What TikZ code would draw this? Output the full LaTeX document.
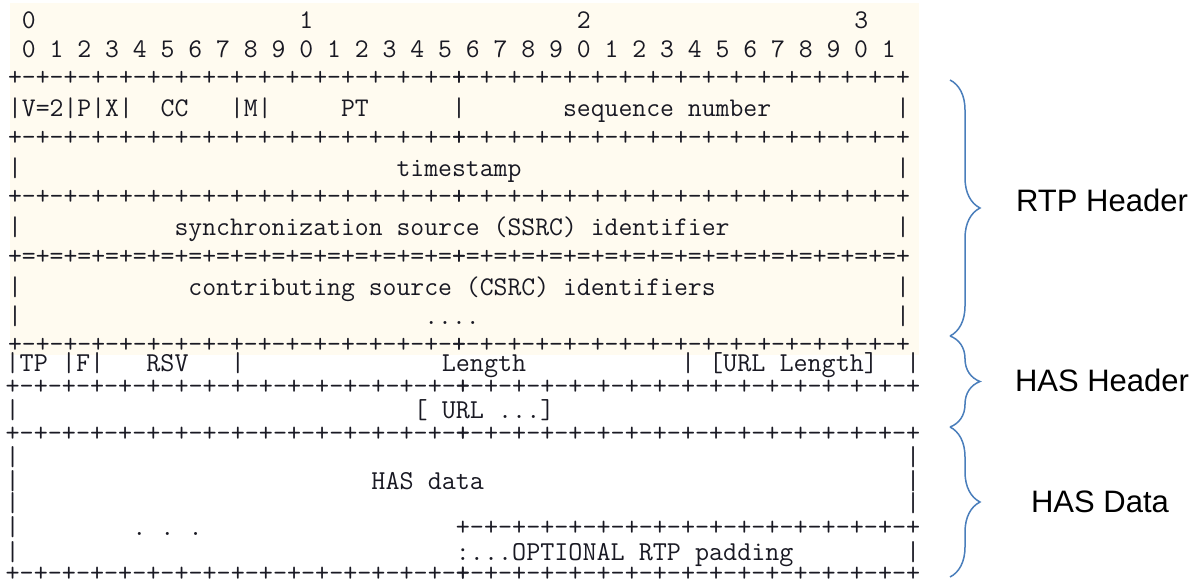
\documentclass[tikz,border=0pt]{standalone}
\usepackage{fontspec}
\setsansfont{Liberation Sans}
\usetikzlibrary{decorations.pathreplacing}
\definecolor{paper}{RGB}{255,251,240}
\definecolor{bracecol}{RGB}{74,126,187}
\definecolor{ink}{RGB}{25,25,35}
\newdimen\probew
\newcommand\gap[1]{\count255=#1\relax\loop\ifnum\count255>0 \ \advance\count255 by -1 \repeat}
\newcommand\halfrow{+-+-+-+-+-+-+-+-+-+-+-+-+-+-+-+-+}
\newcommand\plusrow{\halfrow\kern-\fontcharwd\font`\+\relax\halfrow}
\newcommand\eqhalf{+=+=+=+=+=+=+=+=+=+=+=+=+=+=+=+=+}
\newcommand\eqrow{\eqhalf\kern-\fontcharwd\font`\+\relax\eqhalf}
\newcommand\rtpfont{\ttfamily\fontsize{\rtpsize pt}{\rtpsize pt}\selectfont\frenchspacing\spaceskip\fontcharwd\font`\+\relax}
\newcommand\hasfont{\ttfamily\fontsize{\hassize pt}{\hassize pt}\selectfont\frenchspacing\spaceskip\fontcharwd\font`\+\relax}
\begin{document}
\setbox0\hbox{\ttfamily\fontsize{26.5pt}{26.5pt}\selectfont +}\probew=\wd0
\edef\rtpsize{\fpeval{26.5*13.875/\probew}}
\edef\hassize{\fpeval{26.5*14.07/\probew}}
\begin{tikzpicture}[x=1pt,y=-1pt,
  rtp/.style={anchor=base west,inner sep=0pt,outer sep=0pt,text=ink,font=\rtpfont},
  has/.style={anchor=base west,inner sep=0pt,outer sep=0pt,text=ink,font=\hasfont},
  curly/.style={decorate,decoration={brace,amplitude=30pt},draw=bracecol,line width=1.5pt},
  lbl/.style={inner sep=0pt,text=black,font=\sffamily\fontsize{31pt}{31pt}\selectfont}]
\useasboundingbox (0,0) rectangle (1198,580);
\fill[paper] (10,3) rectangle (919,355);
% RTP header (x of char 0 left edge = 8.06)
\node[rtp] (bitsA) at (21.9,29)   {0\gap{19}1\gap{19}2\gap{19}3};
\node[rtp] (bitsB) at (21.9,58)   {0 1 2 3 4 5 6 7 8 9 0 1 2 3 4 5 6 7 8 9 0 1 2 3 4 5 6 7 8 9 0 1};
\node[rtp] (r1)  at (8.06,85.6)  {\plusrow};
\node[rtp] (r2)  at (8.06,116.5) {|V=2|P|X|\gap{2}CC\gap{3}|M|\gap{5}PT\gap{6}|\gap{7}sequence number\gap{9}|};
\node[rtp] (r3)  at (8.06,145.6) {\plusrow};
\node[rtp] (r4)  at (8.06,176)   {|\gap{27}timestamp\gap{27}|};
\node[rtp] (r5)  at (8.06,204.6) {\plusrow};
\node[rtp] (r6)  at (8.06,235.5) {|\gap{11}synchronization source (SSRC) identifier\gap{12}|};
\node[rtp] (r7)  at (8.06,264.6) {\eqrow};
\node[rtp] (r8)  at (8.06,295.5) {|\gap{12}contributing source (CSRC) identifiers\gap{13}|};
\node[rtp] (r9)  at (8.06,324.6) {|\gap{29}....\gap{30}|};
\node[rtp] (r10) at (8.06,352.5) {\plusrow};
% HAS part (x of char 0 left edge = 5.67)
\node[has] (h1)  at (5.67,371)   {|TP |F|\gap{3}RSV\gap{3}|\gap{14}Length\gap{11}| [URL Length]\gap{2}|};
\node[has] (h2)  at (5.67,394.7) {\plusrow};
\node[has] (h3)  at (5.67,418)   {|\gap{28}[ URL ...]};
\node[has] (h4)  at (5.67,441.7) {\plusrow};
\node[has] (h5)  at (5.67,465.7) {|\gap{63}|};
\node[has] (h6)  at (5.67,489)   {|\gap{25}HAS data\gap{30}|};
\node[has] (h7)  at (5.67,511.7) {|\gap{63}|};
\node[has] (h8)  at (5.67,535.7) {|\gap{8}. . .\gap{18}\halfrow};
\node[has] (h9)  at (5.67,560)   {|\gap{31}:...OPTIONAL RTP padding\gap{8}|};
\node[has] (h10) at (5.67,581.5) {\plusrow};
% braces
\coordinate (bA) at (950,80);
\coordinate (bB) at (950,336);
\coordinate (bC) at (950,427);
\coordinate (bD) at (950,577);
\draw[curly] (bA) -- (bB);
\draw[curly] (bB) -- (bC);
\draw[curly] (bC) -- (bD);
\node[lbl] (lrtp)  at (1102,200) {RTP Header};
\node[lbl] (lhash) at (1102,380) {HAS Header};
\node[lbl] (lhasd) at (1100,502) {HAS Data};
\end{tikzpicture}
\end{document}
